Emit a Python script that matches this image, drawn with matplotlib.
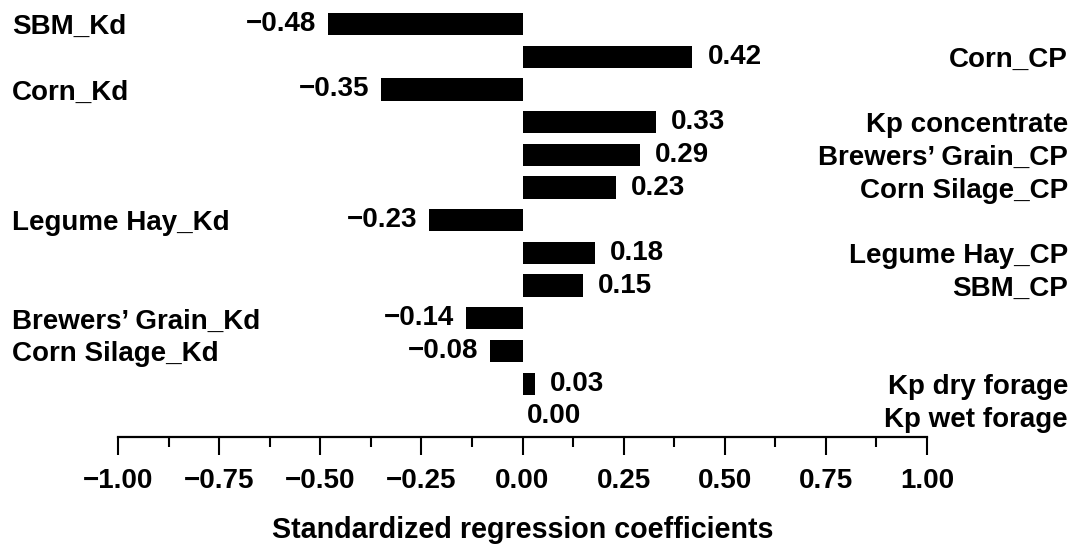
import matplotlib
matplotlib.use("Agg")
import matplotlib.pyplot as plt
import matplotlib.transforms as mtransforms
from matplotlib.ticker import MultipleLocator

labels = ["SBM_Kd", "Corn_CP", "Corn_Kd", "Kp concentrate", "Brewers\u2019 Grain_CP",
          "Corn Silage_CP", "Legume Hay_Kd", "Legume Hay_CP", "SBM_CP",
          "Brewers\u2019 Grain_Kd", "Corn Silage_Kd", "Kp dry forage", "Kp wet forage"]
values = [-0.48, 0.42, -0.35, 0.33, 0.29, 0.23, -0.23, 0.18, 0.15, -0.14, -0.08, 0.03, 0.00]
xticks = [-1.00, -0.75, -0.50, -0.25, 0.00, 0.25, 0.50, 0.75, 1.00]

plt.rcParams['font.family'] = ['Liberation Sans', 'DejaVu Sans']
plt.rcParams['font.weight'] = 'bold'
FS = 20

fig = plt.figure(figsize=(10.74, 5.44), dpi=100)
ax = fig.add_axes([118/1074, 1-437/544, 809/1074, (437-4.4)/544])

ypos = list(range(len(values)))
ax.barh(ypos, values, height=0.68, color='black')
ax.set_xlim(-1, 1)
ax.set_ylim(12.63, -0.6)

for sp in ['top', 'left', 'right']:
    ax.spines[sp].set_visible(False)
ax.spines['bottom'].set_linewidth(1.6)
ax.set_yticks([])
ax.set_xticks(xticks)
ax.set_xticklabels([f"{t:.2f}".replace('-', '\u2212') for t in xticks], fontsize=FS, fontweight='bold')
ax.xaxis.set_minor_locator(MultipleLocator(0.125))
ax.tick_params(axis='x', which='major', length=13, width=1.5, pad=9.5)
ax.tick_params(axis='x', which='minor', length=7, width=1.5)
ax.set_xlabel("Standardized regression coefficients", fontsize=20.6, fontweight='bold', labelpad=16)

px = 1/404.5  # data units per pixel
tr = mtransforms.blended_transform_factory(fig.transFigure, ax.transData)
for y, v, lab in zip(ypos, values, labels):
    txt = f"{v:.2f}".replace('-', '\u2212')
    if v < 0:
        ax.text(v - 12*px, y, txt, ha='right', va='center', fontsize=FS, fontweight='bold')
        fig.text(12/1074, y + 0.1, lab, ha='left', va='center', fontsize=FS, fontweight='bold', transform=tr)
    else:
        off = 15*px if v > 0 else 4*px
        ax.text(v + off, y, txt, ha='left', va='center', fontsize=FS, fontweight='bold')
        fig.text(1068/1074, y + 0.1, lab, ha='right', va='center', fontsize=FS, fontweight='bold', transform=tr)

fig.savefig("out.png", dpi=100)
